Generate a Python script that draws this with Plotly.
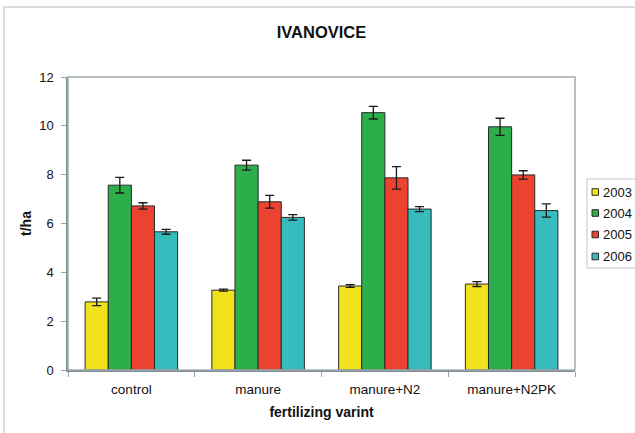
import plotly.graph_objects as go

categories = ["control", "manure", "manure+N2", "manure+N2PK"]
years = ["2003", "2004", "2005", "2006"]
v2003 = [2.79, 3.27, 3.44, 3.52]
v2004 = [7.57, 8.39, 10.54, 9.96]
v2005 = [6.72, 6.89, 7.87, 7.99]
v2006 = [5.66, 6.25, 6.59, 6.53]
e2003 = [0.15, 0.04, 0.06, 0.10]
e2004 = [0.32, 0.20, 0.26, 0.35]
e2005 = [0.13, 0.26, 0.46, 0.17]
e2006 = [0.10, 0.11, 0.10, 0.27]
colors = ["#f2e21c", "#2cae4a", "#ec4330", "#36bcbc"]

values = [v2003, v2004, v2005, v2006]
errors = [e2003, e2004, e2005, e2006]

FONT = "Liberation Sans, Arial, sans-serif"

fig = go.Figure()
for name, vals, errs, col in zip(years, values, errors, colors):
    fig.add_trace(go.Bar(
        x=categories, y=vals, name=name, showlegend=False,
        marker=dict(color=col, line=dict(color="#2a2a2a", width=1)),
        error_y=dict(type="data", array=errs, visible=True,
                     color="#1a1a1a", thickness=1.3, width=4.5),
    ))

W, H = 635, 433
L, R, T, B = 68, 60, 77, 63
pw = W - L - R
ph = H - T - B

def px_x(p):
    return (p - L) / pw

def px_y(p):
    return (H - B - p) / ph

fig.update_layout(
    width=W, height=H,
    margin=dict(l=L, r=R, t=T, b=B, autoexpand=False),
    paper_bgcolor="white", plot_bgcolor="white",
    font=dict(family=FONT, size=13, color="#111111"),
    barmode="group", bargap=0.27, bargroupgap=0,
    title=dict(text="<b>IVANOVICE</b>", x=0.5, xanchor="center",
               xref="paper", y=1 - 32 / H, yanchor="middle",
               font=dict(size=16.5, family=FONT, color="#111111")),
    xaxis=dict(
        title=dict(text="<b>fertilizing varint</b>", font=dict(size=14), standoff=11),
        showline=True, linecolor="#7d8c90", linewidth=1.5,
        ticks="outside", tickson="boundaries", ticklen=5, tickcolor="#9aa4a8",
        showgrid=False, tickfont=dict(size=13.5), ticklabelstandoff=6,
    ),
    yaxis=dict(
        title=dict(text="<b>t/ha</b>", font=dict(size=14), standoff=4),
        range=[0, 12], dtick=2,
        showline=True, linecolor="#7d8c90", linewidth=1.5,
        ticks="outside", ticklen=5, tickcolor="#9aa4a8",
        showgrid=False, zeroline=False, tickfont=dict(size=13),
        ticklabelstandoff=5,
    ),
    showlegend=False,
)

# plot area frame (top & right)
fig.add_shape(type="rect", xref="paper", yref="paper", x0=0, x1=1, y0=0, y1=1,
              line=dict(color="#a3adb0", width=1.5), layer="above")
# outer chart frame
fig.add_shape(type="rect", xref="paper", yref="paper",
              x0=px_x(4), x1=px_x(645), y0=px_y(445), y1=px_y(7),
              line=dict(color="#d2d2d2", width=1.5), layer="below")

# legend box and entries
fig.add_shape(type="rect", xref="paper", yref="paper",
              x0=px_x(587), x1=px_x(645), y0=px_y(268), y1=px_y(179),
              line=dict(color="#c4c4c4", width=1), fillcolor="white", layer="above")
legend_y = [192, 213, 234.5, 256.5]
for name, col, yy in zip(years, colors, legend_y):
    fig.add_shape(type="rect", xref="paper", yref="paper",
                  x0=px_x(592), x1=px_x(598.5), y0=px_y(yy + 3.3), y1=px_y(yy - 3.3),
                  line=dict(color="#2a2a2a", width=1), fillcolor=col, layer="above")
    fig.add_annotation(text=name, xref="paper", yref="paper",
                       x=px_x(601), y=px_y(yy), xanchor="left", yanchor="middle",
                       showarrow=False, font=dict(size=13, family=FONT, color="#111111"))

fig.write_html("out.html", config={"displayModeBar": False},
               post_script="document.body.style.margin='0px';")
